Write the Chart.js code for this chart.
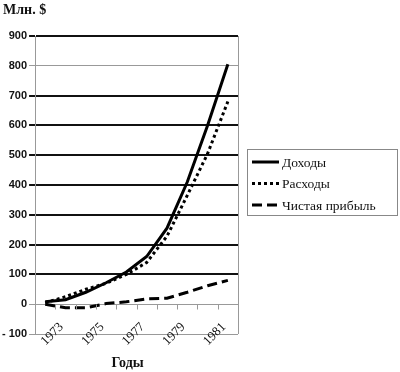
<!DOCTYPE html>
<html>
<head>
<meta charset="utf-8">
<script src="https://cdn.jsdelivr.net/npm/chart.js@4/dist/chart.umd.min.js"></script>
<style>
    html, body { margin: 0; padding: 0; background: #fff; }
    #wrap { width: 400px; height: 372px; }
</style>
</head>
<body>
<div id="wrap"><canvas id="chart" width="400" height="372"></canvas></div>
<script>
// --- Data ---
const years = ['1972', '1973', '1974', '1975', '1976', '1977', '1978', '1979', '1980', '1981'];
const shownYears = ['1973', '1975', '1977', '1979', '1981'];
const revenue = [8, 15, 40, 72, 108, 160, 255, 410, 600, 805];
const expenses = [5, 25, 50, 70, 100, 140, 228, 365, 505, 680];
const netProfit = [0, -12, -12, 2, 8, 18, 20, 40, 62, 80];
const yMin = -100, yMax = 900, yStep = 100;
const xTitle = 'Годы';
const yTitle = 'Млн. $';

const serif = '"Liberation Serif", "Times New Roman", serif';
const sans = '"Liberation Sans", Arial, sans-serif';

// right border, zero-line ticks, rotated year labels (they sit partly inside the plot,
// which the scale itself would clip), axis titles, framed legend
const decorations = {
    id: 'decorations',
    afterDraw(chart) {
        const ctx = chart.ctx;
        const area = chart.chartArea;
        const x = chart.scales.x;
        const y = chart.scales.y;
        ctx.save();

        // right border of plot area
        ctx.strokeStyle = '#999';
        ctx.lineWidth = 1;
        ctx.beginPath();
        ctx.moveTo(Math.round(area.right) + 0.5, area.top);
        ctx.lineTo(Math.round(area.right) + 0.5, area.bottom);
        ctx.stroke();

        // tick marks between categories on the zero line
        const zeroY = Math.round(y.getPixelForValue(0)) + 0.5;
        const step = x.getPixelForValue(1) - x.getPixelForValue(0);
        ctx.beginPath();
        for (let i = 0; i <= years.length; i++) {
            const px = Math.round(x.getPixelForValue(i) - step / 2) + 0.5;
            ctx.moveTo(px, zeroY);
            ctx.lineTo(px, zeroY + 5);
        }
        ctx.stroke();

        // year labels, every other one, turned 45 degrees
        ctx.fillStyle = '#111';
        ctx.font = '13px ' + serif;
        ctx.textAlign = 'right';
        ctx.textBaseline = 'middle';
        years.forEach((yr, i) => {
            if (!shownYears.includes(yr)) return;
            ctx.save();
            ctx.translate(x.getPixelForValue(i) - 4, area.bottom - 9);
            ctx.rotate(-Math.PI / 4);
            ctx.fillText(yr, 0, 0);
            ctx.restore();
        });

        // axis titles
        ctx.font = 'bold 14px ' + serif;
        ctx.textAlign = 'center';
        ctx.textBaseline = 'alphabetic';
        ctx.fillText(xTitle, (area.left + area.right) / 2 - 9, area.bottom + 33);
        ctx.textAlign = 'left';
        ctx.fillText(yTitle, 3, 14);

        // legend
        const sets = chart.data.datasets;
        const rowH = 21.5;
        const lx = Math.round(area.right) + 9;
        const lw = chart.width - 3 - lx;
        const midY = (area.top + area.bottom) / 2 - 3;
        const ly = Math.round(midY - 33);
        ctx.strokeStyle = '#888';
        ctx.lineWidth = 1;
        ctx.strokeRect(lx + 0.5, ly + 0.5, lw, 66);

        ctx.font = '13.5px ' + serif;
        ctx.textBaseline = 'middle';
        ctx.textAlign = 'left';
        sets.forEach((ds, i) => {
            const ry = ly + 13 + i * rowH;
            ctx.strokeStyle = ds.borderColor;
            ctx.lineWidth = ds.borderWidth;
            ctx.setLineDash(ds.borderDash || []);
            ctx.beginPath();
            ctx.moveTo(lx + 5, ry);
            ctx.lineTo(lx + 32, ry);
            ctx.stroke();
            ctx.setLineDash([]);
            ctx.fillStyle = '#111';
            ctx.fillText(ds.label, lx + 35, ry + 1);
        });
        ctx.restore();
    }
};

function isLight(ctx) {
    const v = ctx.tick ? ctx.tick.value : null;
    return v === 800 || v === 0 || v === yMin;
}

new Chart(document.getElementById('chart'), {
    type: 'line',
    data: {
        labels: years,
        datasets: [
            {
                label: 'Доходы',
                data: revenue,
                borderColor: '#000',
                borderWidth: 3,
                pointRadius: 0,
                tension: 0
            },
            {
                label: 'Расходы',
                data: expenses,
                borderColor: '#000',
                borderWidth: 3,
                borderDash: [3, 3],
                pointRadius: 0,
                tension: 0
            },
            {
                label: 'Чистая прибыль',
                data: netProfit,
                borderColor: '#000',
                borderWidth: 3,
                borderDash: [10, 5],
                pointRadius: 0,
                tension: 0
            }
        ]
    },
    options: {
        responsive: false,
        animation: false,
        devicePixelRatio: 1,
        layout: { padding: { left: 0, right: 162, top: 36, bottom: 38 } },
        plugins: {
            legend: { display: false },
            tooltip: { enabled: false }
        },
        scales: {
            x: {
                type: 'category',
                offset: true,
                grid: { display: false, drawTicks: false },
                border: { display: false },
                ticks: { display: false }
            },
            y: {
                min: yMin,
                max: yMax,
                border: { display: true, color: '#999', width: 1 },
                grid: {
                    color: c => isLight(c) ? '#999' : '#111',
                    lineWidth: c => isLight(c) ? 1 : 2,
                    drawTicks: true,
                    tickLength: 6
                },
                ticks: {
                    stepSize: yStep,
                    color: '#111',
                    padding: 2,
                    font: { family: sans, size: 11, weight: 'bold' },
                    callback: v => v < 0 ? '- ' + Math.abs(v) : String(v)
                }
            }
        }
    },
    plugins: [decorations]
});
</script>
</body>
</html>
